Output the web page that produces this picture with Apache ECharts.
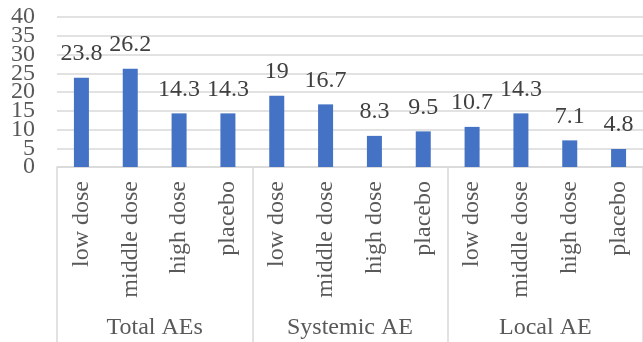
<!DOCTYPE html>
<html>
<head>
<meta charset="utf-8">
<script src="https://cdn.jsdelivr.net/npm/echarts@6/dist/echarts.min.js"></script>
<style>
  html, body { margin: 0; padding: 0; background: #fff; }
  #chart { width: 643px; height: 342px; }
</style>
</head>
<body>
<div id="chart"></div>
<script>
// Adverse event rates (%) by dose group
const doseLabels = ['low dose', 'middle dose', 'high dose', 'placebo',
                    'low dose', 'middle dose', 'high dose', 'placebo',
                    'low dose', 'middle dose', 'high dose', 'placebo'];
const groupLabels = ['Total AEs', 'Systemic AE', 'Local AE'];
const rates = [23.8, 26.2, 14.3, 14.3, 19, 16.7, 8.3, 9.5, 10.7, 14.3, 7.1, 4.8];
const yTicks = { min: 0, max: 40, interval: 5 };

const FONT = '"Liberation Serif", "Times New Roman", serif';
const GRID_COLOR = '#d9d9d9';
const TEXT_COLOR = '#595959';
const FONT_SIZE = 24;

const yLabelStyle = { margin: 22, fontFamily: FONT, fontSize: FONT_SIZE, color: TEXT_COLOR };

const chart = echarts.init(document.getElementById('chart'));
chart.setOption({
  animation: false,
  grid: { left: 57, top: 17, height: 150, width: 593, containLabel: false },
  xAxis: [
    {
      type: 'category',
      data: doseLabels,
      position: 'bottom',
      axisLine: { show: true, lineStyle: { color: GRID_COLOR, width: 1.5 } },
      axisTick: { show: false },
      axisLabel: {
        interval: 0, rotate: 90, margin: 14,
        fontFamily: FONT, fontSize: FONT_SIZE, color: TEXT_COLOR
      },
      splitLine: { show: false }
    },
    {
      type: 'category',
      data: groupLabels,
      position: 'bottom',
      offset: 0,
      boundaryGap: true,
      axisLine: { show: false },
      axisTick: { show: true, interval: 0, length: 190, lineStyle: { color: GRID_COLOR, width: 1.5 } },
      axisLabel: {
        interval: 0, margin: 149,
        fontFamily: FONT, fontSize: FONT_SIZE, color: TEXT_COLOR
      },
      splitLine: { show: false }
    }
  ],
  yAxis: [
    {
      // Gridlines every 5, labels on the multiples of 10
      type: 'value',
      min: yTicks.min, max: yTicks.max, interval: yTicks.interval * 2,
      axisLine: { show: false },
      axisTick: { show: false },
      axisLabel: Object.assign({ showMinLabel: true, showMaxLabel: true }, yLabelStyle),
      splitLine: { show: false }
    },
    {
      // Odd labels (5, 15, 25, 35) on a twin axis so they are not dropped as overlapping
      type: 'value',
      position: 'left',
      offset: 0,
      min: yTicks.min, max: yTicks.max, interval: yTicks.interval,
      axisLine: { show: false },
      axisTick: { show: false },
      axisLabel: Object.assign({
        showMinLabel: false, showMaxLabel: false,
        formatter: v => (v % (yTicks.interval * 2) === 0 ? '' : String(v))
      }, yLabelStyle),
      splitLine: { show: true, lineStyle: { color: GRID_COLOR, width: 1.5 } }
    }
  ],
  series: [{
    type: 'bar',
    xAxisIndex: 0,
    yAxisIndex: 0,
    data: rates,
    barWidth: 15,
    itemStyle: { color: '#4472c4' },
    label: {
      show: true, position: 'top', distance: 12,
      fontFamily: FONT, fontSize: FONT_SIZE, color: '#404040'
    }
  }]
});
</script>
</body>
</html>
